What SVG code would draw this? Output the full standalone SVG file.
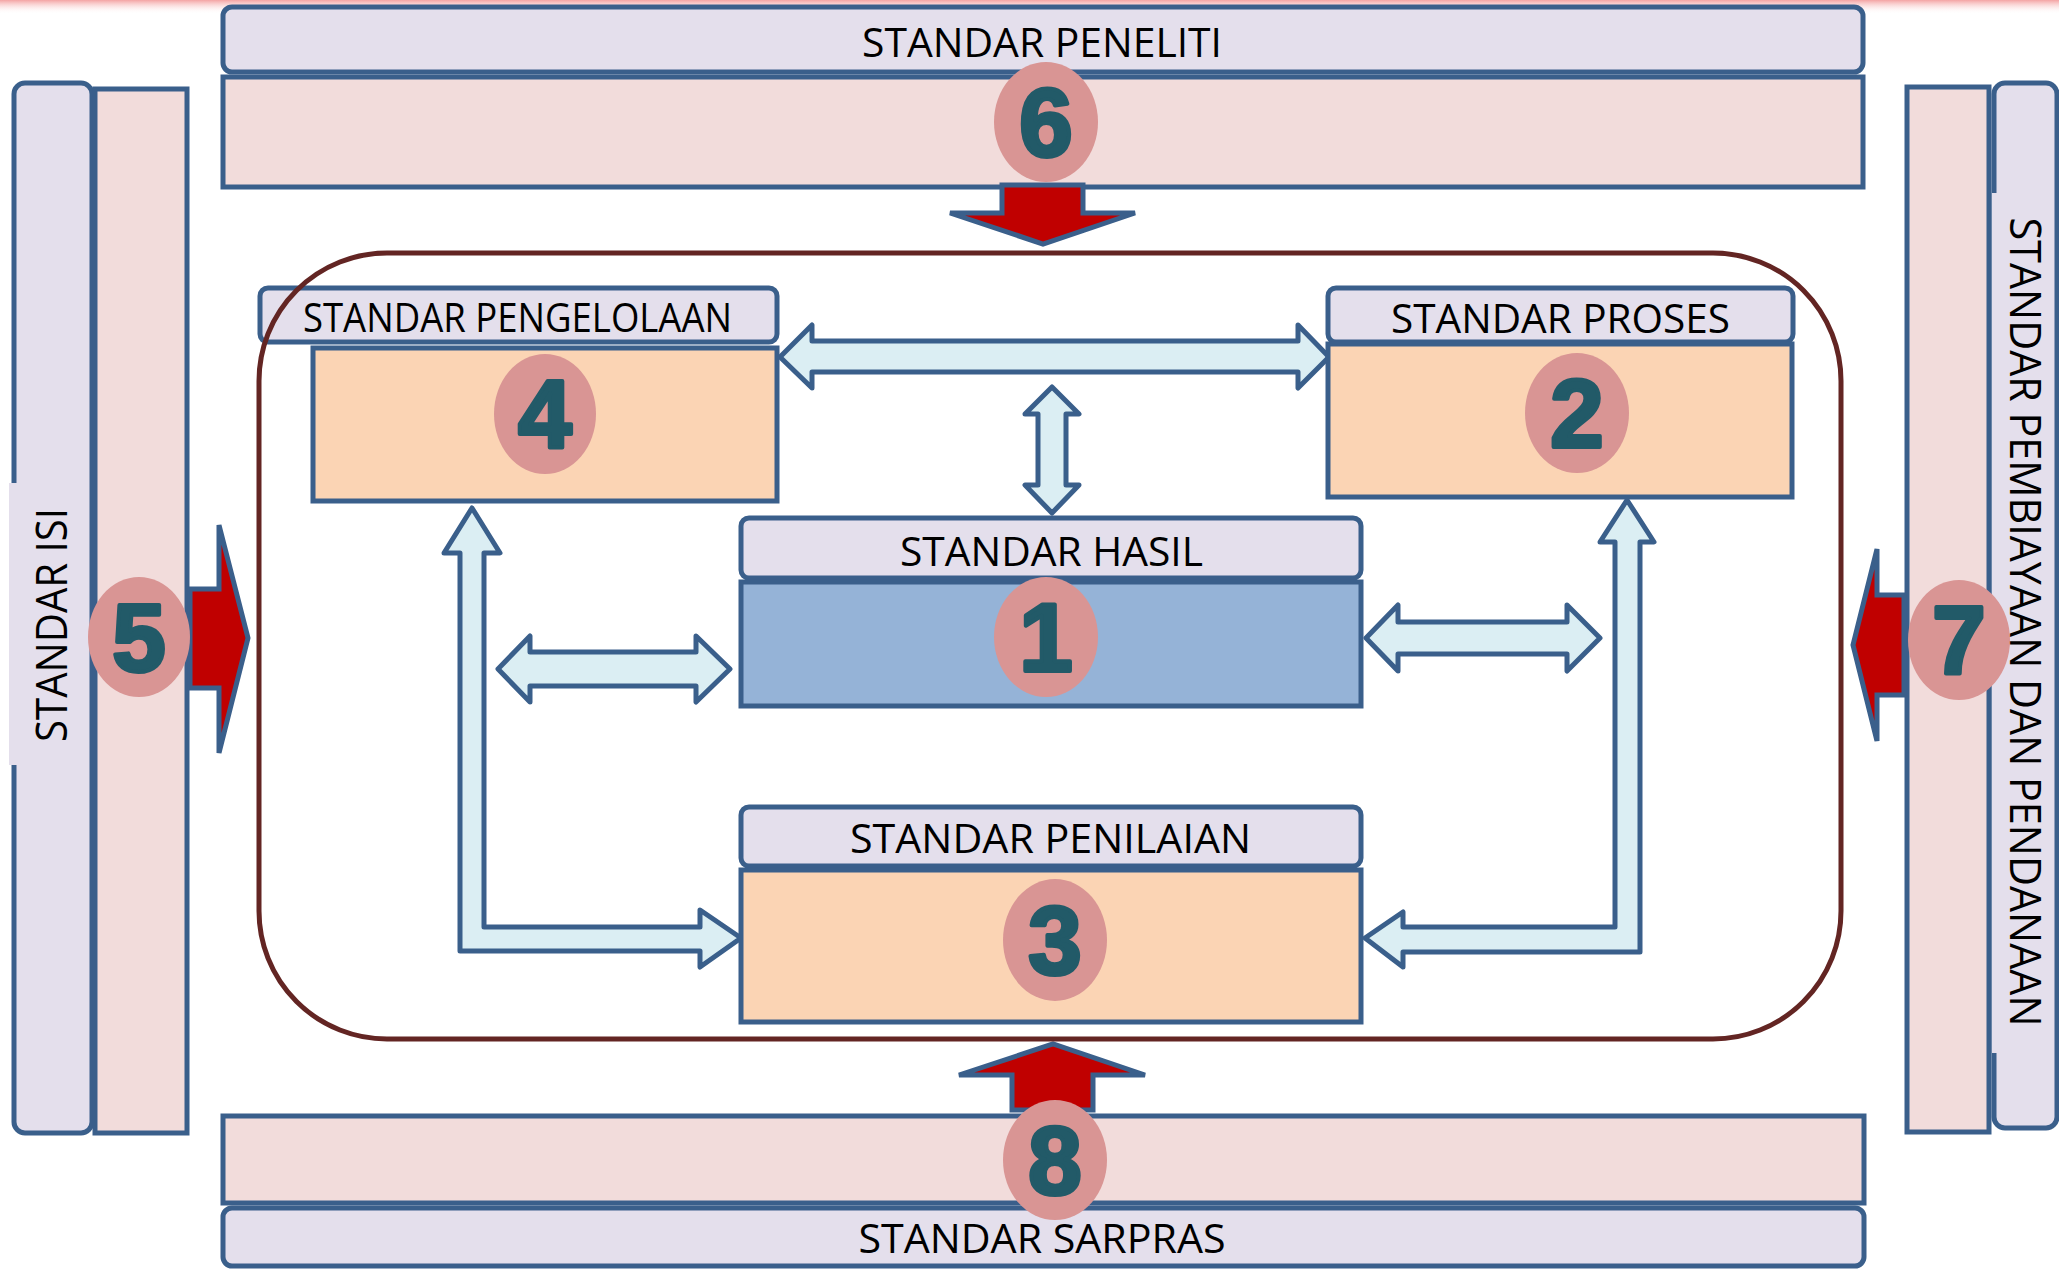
<svg xmlns="http://www.w3.org/2000/svg" width="2059" height="1269" viewBox="0 0 2059 1269">
<defs>
<linearGradient id="topband" x1="0" y1="0" x2="0" y2="1">
<stop offset="0" stop-color="#F4A3A3"/>
<stop offset="1" stop-color="#FFFFFF" stop-opacity="0"/>
</linearGradient>
</defs>
<style>
.lav{fill:#E4DFEC;stroke:#3A5F8B;stroke-width:5}
.pink{fill:#F2DCDB;stroke:#3A5F8B;stroke-width:5}
.peach{fill:#FBD4B4;stroke:#3A5F8B;stroke-width:5}
.blue{fill:#95B3D7;stroke:#3A5F8B;stroke-width:5}
.circ{fill:#D99594}
.num{font-family:"Liberation Sans",Arial,sans-serif;font-weight:bold;font-size:96px;fill:#225A68;stroke:#225A68;stroke-width:4;stroke-linejoin:round;text-anchor:middle}
.lbl{font-family:"Open Sans","Liberation Sans",sans-serif;font-size:40px;fill:#000;text-anchor:middle}
.vlbl{font-family:"Open Sans","Liberation Sans",sans-serif;font-size:44px;fill:#000;text-anchor:middle}
.red{fill:#C00000;stroke:#3A5F8B;stroke-width:5;stroke-linejoin:miter;stroke-miterlimit:6}
.la{fill:#DBEEF3;stroke:#3A5F8B;stroke-width:5;stroke-linejoin:round}
.cont{fill:none;stroke:#632523;stroke-width:5}
</style>
<rect x="0" y="0" width="2059" height="14" fill="url(#topband)"/>

<g id="std6-peneliti">
<rect class="lav" x="223" y="7" width="1640" height="65" rx="9"/>
<rect class="pink" x="223" y="77" width="1640" height="110"/>
<text class="lbl" x="1042" y="57" textLength="360" lengthAdjust="spacingAndGlyphs">STANDAR PENELITI</text>
</g>

<g id="std8-sarpras">
<rect class="pink" x="223" y="1116" width="1641" height="87"/>
<rect class="lav" x="223" y="1208" width="1641" height="58" rx="9"/>
<text class="lbl" x="1042" y="1253" textLength="367" lengthAdjust="spacingAndGlyphs">STANDAR SARPRAS</text>
</g>

<g id="std5-isi">
<rect class="lav" x="14" y="83" width="78" height="1050" rx="11"/>
<rect class="pink" x="95" y="89" width="92" height="1044"/>
<rect x="9" y="483" width="10" height="282" fill="#E4DFEC"/>
<text class="vlbl" transform="translate(67,625) rotate(-90)" x="0" y="0" textLength="234" lengthAdjust="spacingAndGlyphs">STANDAR ISI</text>
</g>

<g id="std7-pembiayaan">
<rect class="pink" x="1907" y="87" width="82" height="1045"/>
<rect class="lav" x="1994" y="83" width="63" height="1045" rx="11"/>
<rect x="1992" y="193" width="7" height="860" fill="#E4DFEC"/>
</g>

<g id="connectors">
<polygon class="red" points="1002,185 1083,185 1083,213 1135,213 1043,244 950,213 1002,213"/>
<polygon class="red" points="1012,1110 1012,1075 959,1075 1053,1044 1145,1075 1093,1075 1093,1110"/>
<polygon class="red" points="190,589 219,589 219,525 248,638 219,753 219,688 190,688"/>
<polygon class="red" points="1904,595 1877,595 1877,549 1853,645 1877,741 1877,695 1904,695"/>
<polygon class="la" points="780,357 812,325 812,341 1298,341 1298,325 1329,357 1298,388 1298,372 812,372 812,388"/>
<polygon class="la" points="1052,387 1079,414 1066,414 1066,485 1079,485 1052,513 1025,485 1038,485 1038,414 1025,414"/>
<polygon class="la" points="498,669 530,636 530,652 696,652 696,636 730,669 696,702 696,686 530,686 530,702"/>
<polygon class="la" points="1366,638 1398,605 1398,622 1567,622 1567,605 1600,638 1567,671 1567,654 1398,654 1398,671"/>
<polygon class="la" points="472,508 500,553 484,553 484,927 700,927 700,910 741,938 700,967 700,951 460,951 460,553 444,553"/>
<polygon class="la" points="1627,500 1654,542 1640,542 1640,952 1403,952 1403,967 1365,938 1403,912 1403,927 1615,927 1615,542 1600,542"/>
</g>

<g id="std4-pengelolaan">
<rect class="lav" x="260" y="288" width="517" height="54" rx="8"/>
<rect class="peach" x="313" y="348" width="464" height="153"/>
<text class="lbl" x="517.5" y="332" textLength="429" lengthAdjust="spacingAndGlyphs">STANDAR PENGELOLAAN</text>
<ellipse class="circ" cx="545" cy="414" rx="51" ry="60"/>
<text class="num" x="545" y="448">4</text>
</g>

<g id="std2-proses">
<rect class="lav" x="1328" y="288" width="465" height="54" rx="8"/>
<rect class="peach" x="1328" y="344" width="464" height="153"/>
<text class="lbl" x="1560.5" y="333" textLength="339" lengthAdjust="spacingAndGlyphs">STANDAR PROSES</text>
<ellipse class="circ" cx="1577" cy="413" rx="52" ry="60"/>
<text class="num" x="1577" y="447">2</text>
</g>

<g id="std1-hasil">
<rect class="lav" x="741" y="518" width="620" height="60" rx="8"/>
<rect class="blue" x="741" y="582" width="620" height="124"/>
<text class="lbl" x="1051.5" y="566" textLength="303" lengthAdjust="spacingAndGlyphs">STANDAR HASIL</text>
<ellipse class="circ" cx="1046" cy="637" rx="52" ry="60"/>
<text class="num" x="1046" y="671">1</text>
</g>

<g id="std3-penilaian">
<rect class="lav" x="741" y="807" width="620" height="59" rx="8"/>
<rect class="peach" x="741" y="870" width="620" height="152"/>
<text class="lbl" x="1050.5" y="853" textLength="401" lengthAdjust="spacingAndGlyphs">STANDAR PENILAIAN</text>
<ellipse class="circ" cx="1055" cy="940" rx="52" ry="61"/>
<text class="num" x="1055" y="974">3</text>
</g>

<rect id="container" class="cont" x="259" y="253" width="1582" height="786" rx="128" ry="128"/>

<g id="badges">
<ellipse class="circ" cx="1046" cy="122" rx="52" ry="60"/>
<text class="num" x="1046" y="156">6</text>
<ellipse class="circ" cx="1055" cy="1160" rx="52" ry="60"/>
<text class="num" x="1055" y="1194">8</text>
<ellipse class="circ" cx="139" cy="637" rx="51" ry="60"/>
<text class="num" x="139" y="671">5</text>
<ellipse class="circ" cx="1959" cy="640" rx="51" ry="60"/>
<text class="num" x="1959" y="674">7</text>
</g>

<text class="vlbl" transform="translate(2010,622) rotate(90)" x="0" y="0" textLength="809" lengthAdjust="spacingAndGlyphs">STANDAR PEMBIAYAAN DAN PENDANAAN</text>
</svg>
